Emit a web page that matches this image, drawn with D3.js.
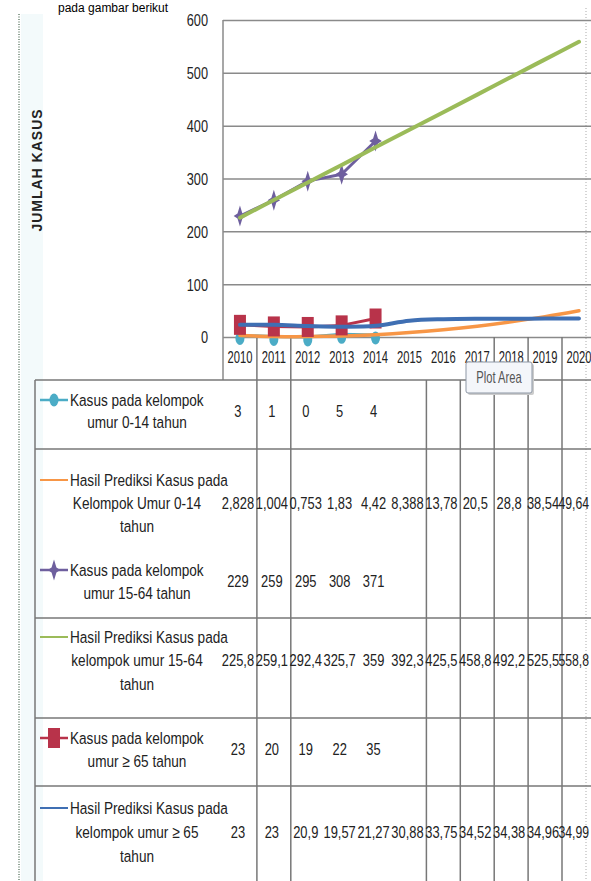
<!DOCTYPE html>
<html>
<head>
<meta charset="utf-8">
<script src="https://cdn.jsdelivr.net/npm/d3@7"></script>
<style>
body { margin: 0; background: #fff; overflow: hidden; }
svg { display: block; }
text { font-family: "Liberation Sans", Arial, sans-serif; fill: #222; }
</style>
</head>
<body>
<div id="cont"></div>
<script>

// data //

var categories = ['2010','2011','2012','2013','2014','2015','2016','2017','2018','2019','2020'];
var yTicks = [0, 100, 200, 300, 400, 500, 600];

var kasus014 = [3, 1, 0, 5, 4];
var prediksi014 = [2.828, 1.004, 0.753, 1.83, 4.42, 8.388, 13.78, 20.5, 28.8, 38.54, 49.64];
var kasus1564 = [229, 259, 295, 308, 371];
var prediksi1564 = [225.82, 259.12, 292.4, 325.7, 359, 392.3, 425.5, 458.8, 492.2, 525.5, 558.8];
var kasus65 = [23, 20, 19, 22, 35];
var prediksi65 = [23, 23, 20.9, 19.57, 21.27, 30.88, 33.75, 34.52, 34.38, 34.96, 34.99];

var label1 = ['Kasus pada kelompok', 'umur 0-14 tahun'];
var label2 = ['Hasil Prediksi Kasus pada', 'Kelompok Umur 0-14', 'tahun'];
var label3 = ['Kasus pada kelompok', 'umur 15-64 tahun'];
var label4 = ['Hasil Prediksi Kasus pada', 'kelompok umur 15-64', 'tahun'];
var label5 = ['Kasus pada kelompok', 'umur \u2265 65 tahun'];
var label6 = ['Hasil Prediksi Kasus pada', 'kelompok umur \u2265 65', 'tahun'];

var series = [
	{label: label1, values: kasus014, color: '#4BACC6', marker: 'circle', smooth: false, w: 3},
	{label: label2, values: prediksi014, color: '#F79646', marker: null, smooth: true, w: 3.5},
	{label: label3, values: kasus1564, color: '#6E5F9E', marker: 'star', smooth: false, w: 3},
	{label: label4, values: prediksi1564, color: '#9BBB59', marker: null, smooth: true, w: 4},
	{label: label5, values: kasus65, color: '#B8334A', marker: 'square', smooth: false, w: 3},
	{label: label6, values: prediksi65, color: '#3F6FB3', marker: null, smooth: true, w: 4}
];

// layout //

var W = 591, H = 881;
var svg = d3.select('#cont').append('svg').attr('width', W).attr('height', H);

var x = d3.scaleBand().domain(categories).range([223, 223 + 33.9 * 11]);
var y = d3.scaleLinear().domain([0, 600]).range([337, 20]);
var cx = function(i) { return x(categories[i]) + x.bandwidth() / 2; };
var edge = function(k) { return x(categories[k]); };

var gridColor = '#8a8a8a';

// squished text like the stretched screenshot
var sText = function(g, tx, ty, str, size, sx, anchor, weight) {
	return g.append('text')
		.attr('transform', 'translate(' + tx + ',' + ty + ') scale(' + sx + ',1)')
		.attr('text-anchor', anchor || 'start')
		.attr('dy', '0.35em')
		.style('font-size', size + 'px')
		.style('font-weight', weight || 'normal')
		.text(str);
};

// page bits
svg.append('text').attr('x', 58).attr('y', 12).style('font-size', '12px').style('fill', '#000').text('pada gambar berikut');
svg.append('rect').attr('x', 21).attr('y', 14).attr('width', 22).attr('height', H).attr('fill', '#f3fafb');
svg.append('line').attr('x1', 19).attr('x2', 19).attr('y1', 14).attr('y2', H)
	.attr('stroke', '#8fa293').attr('stroke-width', 2).attr('stroke-dasharray', '1,1.5');
svg.append('line').attr('x1', 586).attr('x2', 586).attr('y1', 8).attr('y2', H)
	.attr('stroke', '#c8c8c8').attr('stroke-width', 1.5).attr('stroke-dasharray', '1,2');

// y axis + gridlines
var yAxis = svg.append('g').attr('transform', 'translate(223,0)')
	.call(d3.axisLeft(y).tickValues(yTicks).tickSize(-(W - 223)).tickFormat(d3.format('d')));
yAxis.select('.domain').remove();
yAxis.selectAll('line').attr('stroke', gridColor).attr('stroke-width', 1.5);
yAxis.selectAll('text')
	.attr('x', -15 / 0.75).attr('dy', '0.35em')
	.attr('transform', 'scale(0.75,1)')
	.style('font-size', '17px').style('font-family', '"Liberation Sans", Arial, sans-serif').attr('fill', '#333');

// plot left border
svg.append('line').attr('x1', 223).attr('x2', 223).attr('y1', 20).attr('y2', 380)
	.attr('stroke', gridColor).attr('stroke-width', 1.5);

// y title
svg.append('text')
	.attr('transform', 'translate(37,170) rotate(-90)')
	.attr('text-anchor', 'middle').attr('dy', '0.35em')
	.style('font-size', '14px').style('font-weight', 'bold').style('letter-spacing', '1px')
	.text('JUMLAH KASUS');

// x labels
var xAxis = svg.append('g').attr('transform', 'translate(0,357)')
	.call(d3.axisBottom(x).tickSize(0).tickPadding(0));
xAxis.select('.domain').remove();
xAxis.selectAll('text').attr('y', 0).attr('dy', '0.35em')
	.attr('transform', 'scale(0.7,1)')
	.style('font-size', '16px').style('font-family', '"Liberation Sans", Arial, sans-serif').attr('fill', '#111');

// separators in axis band and in table (as seen in the picture)
var axisSeps = [1, 2, 8, 9, 10];
var tableSeps = [1, 2, 6, 7, 8, 9, 10];
svg.selectAll('.asep').data(axisSeps).enter().append('line')
	.attr('x1', edge).attr('x2', edge).attr('y1', y(0)).attr('y2', 380)
	.attr('stroke', '#777').attr('stroke-width', 1.5);
svg.selectAll('.tsep').data(tableSeps).enter().append('line')
	.attr('x1', edge).attr('x2', edge).attr('y1', 380).attr('y2', H)
	.attr('stroke', '#777').attr('stroke-width', 1.5);

// table frame
var hLines = [380, 449, 618, 718, 786];
svg.selectAll('.hl').data(hLines).enter().append('line')
	.attr('x1', 35).attr('x2', W).attr('y1', function(d) { return d; }).attr('y2', function(d) { return d; })
	.attr('stroke', '#777').attr('stroke-width', 1.5);
svg.append('line').attr('x1', 35).attr('x2', 35).attr('y1', 380).attr('y2', H)
	.attr('stroke', '#777').attr('stroke-width', 1.5);

// markers
var starType = {
	draw: function(ctx, size) {
		var r = Math.sqrt(size);
		ctx.moveTo(0, -r * 1.5);
		ctx.lineTo(r * 0.35, -r * 0.35);
		ctx.lineTo(r * 0.9, 0);
		ctx.lineTo(r * 0.35, r * 0.35);
		ctx.lineTo(0, r * 1.5);
		ctx.lineTo(-r * 0.35, r * 0.35);
		ctx.lineTo(-r * 0.9, 0);
		ctx.lineTo(-r * 0.35, -r * 0.35);
		ctx.closePath();
	}
};
var drawMarker = function(g, type, color, px, py) {
	if (type === 'circle') {
		g.append('ellipse').attr('cx', px).attr('cy', py + 3).attr('rx', 4.5).attr('ry', 6.5).attr('fill', color);
	} else if (type === 'square') {
		g.append('rect').attr('x', px - 6).attr('y', py - 10).attr('width', 12).attr('height', 20).attr('fill', color);
	} else if (type === 'star') {
		g.append('path').attr('transform', 'translate(' + px + ',' + py + ')')
			.attr('d', d3.symbol().type(starType).size(49)()).attr('fill', color);
	}
};

// series
var plot = svg.append('g');
series.forEach(function(s) {
	var line = d3.line()
		.x(function(d, i) { return cx(i); })
		.y(function(d) { return y(d); })
		.curve(s.smooth ? d3.curveCatmullRom.alpha(0.5) : d3.curveLinear);
	plot.append('path').attr('d', line(s.values))
		.attr('fill', 'none').attr('stroke', s.color).attr('stroke-width', s.w)
		.attr('stroke-linejoin', 'round').attr('stroke-linecap', 'round');
	if (s.marker) {
		s.values.forEach(function(v, i) { drawMarker(plot, s.marker, s.color, cx(i), y(v)); });
	}
});

// data table
var fmt = function(v) {
	var s = String(v);
	if (s.length > 5) {
		var intLen = String(Math.floor(v)).length;
		s = v.toFixed(Math.max(0, 4 - intLen));
	}
	return s.replace('.', ',');
};
var rowLines = [[400, 422], [480, 503, 526], [570, 593], [637, 660, 684], [738, 761], [808, 832, 856]];
var table = svg.append('g');
var last = categories.length - 1;
series.forEach(function(s, r) {
	var ly = rowLines[r];
	// legend key
	table.append('line').attr('x1', 40).attr('x2', 68).attr('y1', ly[0]).attr('y2', ly[0])
		.attr('stroke', s.color).attr('stroke-width', s.marker ? 2.5 : 2);
	if (s.marker) drawMarker(table, s.marker, s.color, 54, ly[0] - (s.marker === 'circle' ? 3 : 0));
	s.label.forEach(function(t, j) {
		if (j === 0) sText(table, 70, ly[j], t, 17, 0.8, 'start');
		else sText(table, 137, ly[j], t, 17, 0.8, 'middle');
	});
	var vy = d3.mean(ly);
	s.values.forEach(function(v, i) {
		if (i === last) sText(table, W - 2, vy, fmt(v), 17, 0.72, 'end');
		else sText(table, cx(i) - 2, vy, fmt(v), 17, 0.76, 'middle');
	});
});

// "Plot Area" tooltip
var tip = svg.append('g');
tip.append('rect').attr('x', 468).attr('y', 364).attr('width', 66).attr('height', 31).attr('rx', 2).attr('fill', '#ccc');
tip.append('rect').attr('x', 466).attr('y', 362).attr('width', 66).attr('height', 31).attr('rx', 2)
	.attr('fill', '#f4f6fa').attr('stroke', '#8d97a5').attr('stroke-width', 1);
sText(tip, 499, 377, 'Plot Area', 16, 0.7, 'middle').style('fill', '#555');

</script>
</body>
</html>
